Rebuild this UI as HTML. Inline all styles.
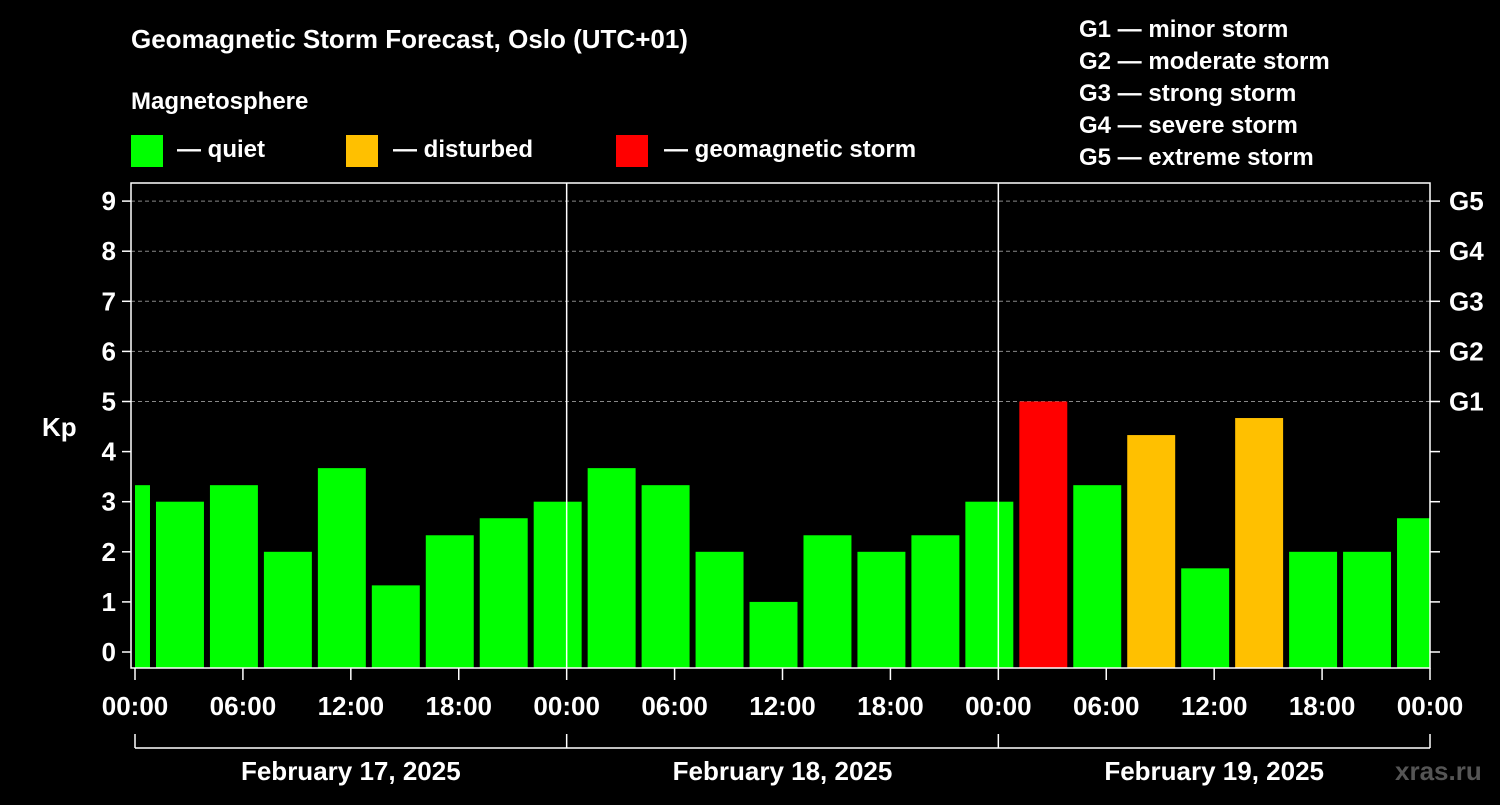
<!DOCTYPE html>
<html><head><meta charset="utf-8"><style>
body{margin:0;background:#000;width:1500px;height:800px;overflow:hidden}
svg text{font-family:"Liberation Sans",Arial,sans-serif;font-weight:bold;fill:#fff}
</style></head><body>
<svg id="c" width="1500" height="800" xmlns="http://www.w3.org/2000/svg">
<rect width="1500" height="800" fill="#000"/>
<text x="131" y="48" font-size="26">Geomagnetic Storm Forecast, Oslo (UTC+01)</text>
<text x="131" y="109" font-size="24">Magnetosphere</text>
<g><rect x="131" y="135" width="32" height="32" fill="#00ff00"/><text x="177" y="157" font-size="24">— quiet</text></g>
<g><rect x="346" y="135" width="32" height="32" fill="#ffc000"/><text x="393" y="157" font-size="24">— disturbed</text></g>
<g><rect x="616" y="135" width="32" height="32" fill="#ff0000"/><text x="664" y="157" font-size="24">— geomagnetic storm</text></g>
<g font-size="24">
<text x="1079" y="37">G1 — minor storm</text><text x="1079" y="69">G2 — moderate storm</text><text x="1079" y="101">G3 — strong storm</text><text x="1079" y="133">G4 — severe storm</text><text x="1079" y="165">G5 — extreme storm</text></g>
<text x="42" y="436" font-size="26">Kp</text>
<text x="1395" y="780" font-size="26" style="fill:#555">xras.ru</text>
<g id="grid"></g><g id="bars"></g><g id="axes"></g>
</svg>
<script>
const kpValues=[3.33,3,3.33,2,3.67,1.33,2.33,2.67,3,3.67,3.33,2,1,2.33,2,2.33,3,5,3.33,4.33,1.67,4.67,2,2,2.67];
const dayLabels=["February 17, 2025","February 18, 2025","February 19, 2025"];
const yTicks=[0,1,2,3,4,5,6,7,8,9];
const gLabels=["G1","G2","G3","G4","G5"];
const timeLabels=["00:00","06:00","12:00","18:00"];
const NS="http://www.w3.org/2000/svg";
const X0=135,X1=1430,Y0=652,PY=50.1,TOP=183,BOT=668;
const xH=h=>X0+h*(X1-X0)/72;
const yV=v=>Y0-v*PY;
function mk(t,a,p){const e=document.createElementNS(NS,t);for(const k in a)e.setAttribute(k,a[k]);p.appendChild(e);return e;}
const grid=document.getElementById('grid'),bars=document.getElementById('bars'),axes=document.getElementById('axes');
yTicks.forEach(v=>{if(v>=5){const l=mk('line',{x1:131,x2:X1,y1:yV(v),y2:yV(v),stroke:'#888','stroke-dasharray':'4,3','stroke-width':1},grid);

}});
kpValues.forEach((v,i)=>{let s=xH(-2+3*i)+3,e=xH(1+3*i)-3;s=Math.max(s,X0);e=Math.min(e,X1);
const col=v>=5?'#ff0000':(v>=4?'#ffc000':'#00ff00');
const r=mk('rect',{x:s,y:yV(v),width:e-s,height:BOT-yV(v),fill:col},bars);

});
mk('rect',{x:131,y:TOP,width:X1-131,height:BOT-TOP,fill:'none',stroke:'#fff','stroke-width':1.5},axes);
[1,2].forEach(d=>mk('line',{x1:xH(24*d),x2:xH(24*d),y1:TOP,y2:BOT,stroke:'#fff','stroke-width':1.5},axes));
yTicks.forEach(v=>{mk('line',{x1:122,x2:131,y1:yV(v),y2:yV(v),stroke:'#fff','stroke-width':1.5},axes);
mk('line',{x1:X1,x2:X1+10,y1:yV(v),y2:yV(v),stroke:'#fff','stroke-width':1.5},axes);
const t=mk('text',{x:116,y:yV(v)+9,'font-size':26,'text-anchor':'end'},axes);t.textContent=v;


if(v>=5){const g=mk('text',{x:1449,y:yV(v)+9,'font-size':26},axes);g.textContent=gLabels[v-5];

}});
for(let h=0;h<=72;h+=6){const x=xH(h);mk('line',{x1:x,x2:x,y1:BOT,y2:BOT+12,stroke:'#fff','stroke-width':1.5},axes);
const t=mk('text',{x:x,y:715,'font-size':26,'text-anchor':'middle'},axes);t.textContent=timeLabels[(h/6)%4];

}
mk('line',{x1:X0,x2:X1,y1:748,y2:748,stroke:'#fff','stroke-width':1.5},axes);
[0,1,2,3].forEach(d=>mk('line',{x1:xH(24*d),x2:xH(24*d),y1:734,y2:748,stroke:'#fff','stroke-width':1.5},axes));
dayLabels.forEach((s,d)=>{const t=mk('text',{x:xH(24*d+12),y:780,'font-size':26,'text-anchor':'middle'},axes);t.textContent=s;

});
</script>
</body></html>
